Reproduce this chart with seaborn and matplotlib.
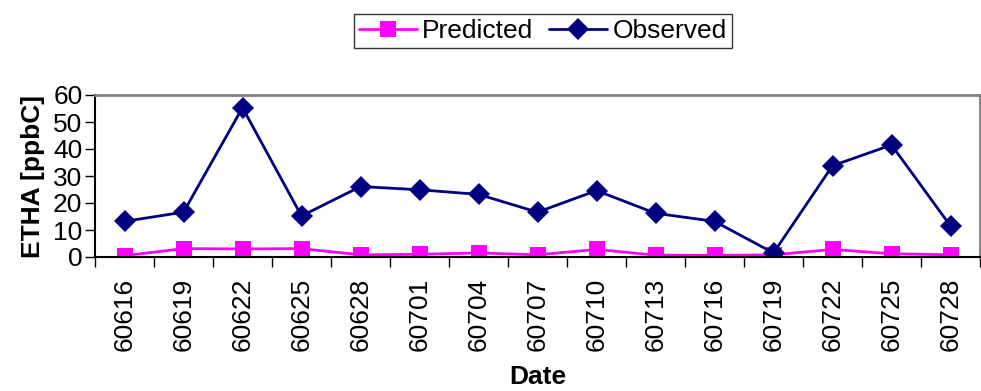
import matplotlib
matplotlib.use("Agg")
import matplotlib.pyplot as plt
import seaborn as sns
import pandas as pd
import numpy as np

dates = ["60616", "60619", "60622", "60625", "60628", "60701", "60704", "60707",
         "60710", "60713", "60716", "60719", "60722", "60725", "60728"]
predicted = [0.5, 3.1, 3.0, 3.1, 0.8, 1.0, 1.5, 0.8, 2.8, 0.7, 0.6, 0.8, 2.8, 1.2, 0.8]
observed = [13.2, 16.6, 55.3, 15.2, 26.1, 24.9, 23.2, 16.6, 24.6, 16.2, 13.2, 1.5, 33.8, 41.5, 11.5]

sns.set_style("white")
plt.rcParams['font.family'] = ['Liberation Sans', 'DejaVu Sans']
plt.rcParams.update({'text.color': 'black', 'axes.labelcolor': 'black',
                     'xtick.color': 'black', 'ytick.color': 'black'})

pos = np.arange(len(dates))
df = pd.DataFrame({"pos": np.concatenate([pos, pos]),
                   "value": predicted + observed,
                   "series": ["Predicted"] * len(dates) + ["Observed"] * len(dates)})

fig = plt.figure(figsize=(9.81, 3.91), dpi=100)
ax = fig.add_axes([95/981, 1 - 257/391, 885/981, 162/391])

sns.lineplot(data=df, x="pos", y="value", hue="series", style="series",
             palette={"Predicted": "#FF00FF", "Observed": "#000080"},
             markers={"Predicted": "s", "Observed": "D"},
             dashes=False, markersize=11, linewidth=2, markeredgewidth=0,
             ax=ax, sort=False)

ax.set_xlim(-0.5, len(dates) - 0.5)
ax.set_ylim(0, 60)
ax.set_yticks([0, 10, 20, 30, 40, 50, 60])
ax.set_xticks(pos)
ax.set_xticklabels(dates, rotation=90)
ax.set_xticks(np.arange(-0.5, len(dates), 1), minor=True)
ax.tick_params(axis='x', which='major', length=0, pad=15, labelsize=19, labelcolor='black')
ax.tick_params(axis='x', which='minor', length=7, width=1, direction='out', color='black', bottom=True)
ax.tick_params(axis='y', which='major', length=7, width=1, direction='out', color='black', left=True,
               labelsize=19, pad=2, labelcolor='black')

for s in ['left', 'bottom']:
    ax.spines[s].set_color('black')
    ax.spines[s].set_linewidth(1.5)
for s in ['top', 'right']:
    ax.spines[s].set_color('#808080')
    ax.spines[s].set_linewidth(2)

ax.set_xlabel("Date", fontsize=19, fontweight='bold', labelpad=10, color='black')
ax.set_ylabel("ETHA [ppbC]", fontsize=19, fontweight='bold', labelpad=6, color='black')

handles, labels = ax.get_legend_handles_labels()
leg = ax.legend(handles, labels, loc='center', bbox_to_anchor=(543/981, 1 - 31/391),
                bbox_transform=fig.transFigure, ncol=2, frameon=True, fontsize=19,
                fancybox=False, edgecolor='black', handlelength=2.2, handletextpad=0.2,
                columnspacing=0.6, borderpad=0.2, borderaxespad=0)
leg.get_frame().set_linewidth(1)
for t in leg.get_texts():
    t.set_color('black')

fig.savefig("out.png", dpi=100)
